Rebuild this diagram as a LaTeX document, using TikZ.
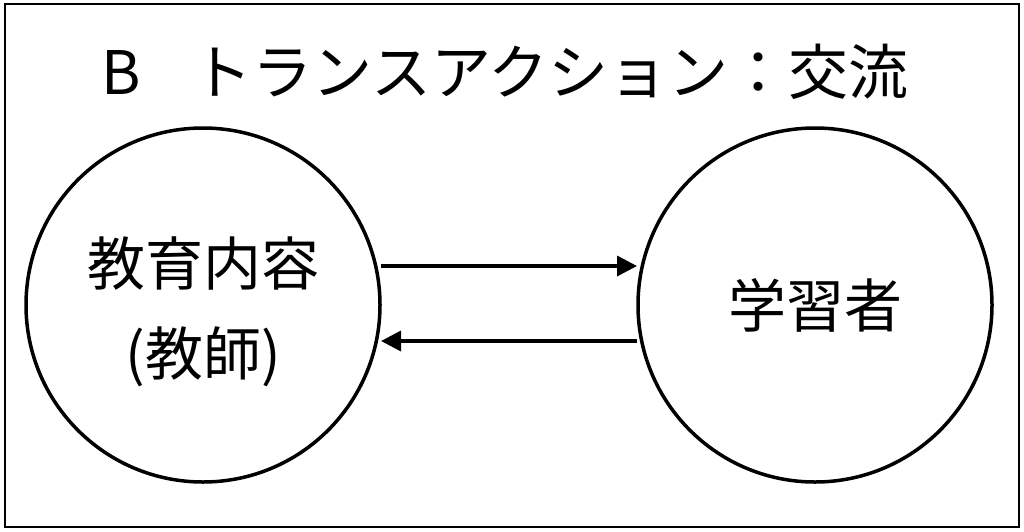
\documentclass[tikz,border=0pt]{standalone}
\usepackage{fontspec}
\setmainfont{Noto Sans CJK JP}
\usetikzlibrary{arrows.meta}
\begin{document}
\begin{tikzpicture}[x=1pt,y=-1pt,
  circ/.style={circle,draw,line width=3.5pt,minimum size=354pt,inner sep=0pt,align=center,font=\fontsize{58}{90}\selectfont},
  arr/.style={line width=3.5pt,-{Triangle[length=20pt,width=20pt]}}]
\useasboundingbox (0,0) rectangle (1024,531);
\draw[line width=2.5pt] (5,4) rectangle (1019,527);
\node (title) at (505,72) {\fontsize{60}{66}\selectfont B\hspace{0.85em}トランスアクション：交流};
\node[circ] (L) at (203,305) {};
\node[align=center,font=\fontsize{58}{90}\selectfont] (Lt) at (203,312) {教育内容\\(教師)};
\node[circ] (R) at (815,305) {学習者};
\coordinate (a1) at (381,266); \coordinate (a2) at (637,266);
\coordinate (b1) at (637,341); \coordinate (b2) at (381,341);
\draw[arr] (a1) -- (a2);
\draw[arr] (b1) -- (b2);
\end{tikzpicture}
\end{document}
